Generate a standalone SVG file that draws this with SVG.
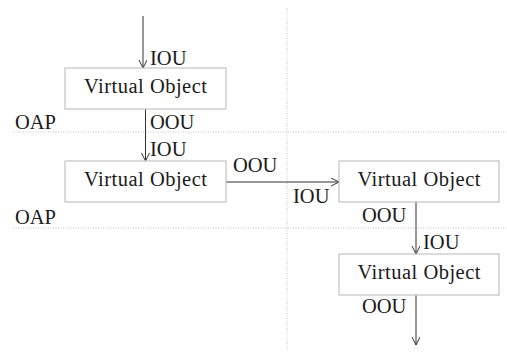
<svg xmlns="http://www.w3.org/2000/svg" width="507" height="352" viewBox="0 0 507 352">
  <style>
    .grid { stroke: #b4b4b4; stroke-width: 0.8; stroke-dasharray: 1 1.5; fill: none; }
    .box { fill: #ffffff; stroke: #c4c4c4; stroke-width: 1.2; }
    .edge { stroke: #333333; stroke-width: 1; fill: none; marker-end: url(#head); }
  </style>
  <defs>
    <marker id="head" markerWidth="10" markerHeight="10" refX="8" refY="4" orient="auto" markerUnits="userSpaceOnUse">
      <path d="M0,0 L8,4 L0,8" fill="none" stroke="#333333" stroke-width="1"/>
    </marker>
  </defs>

  <!-- partition guides -->
  <g id="guides">
    <line class="grid" x1="287" y1="8" x2="287" y2="350"/>
    <line class="grid" x1="13" y1="132" x2="507" y2="132"/>
    <line class="grid" x1="13" y1="228" x2="507" y2="228"/>
  </g>
  <g id="partition-labels" font-family="Liberation Serif" font-size="20.5" fill="#1a1a1a">
    <text x="15" y="129">OAP</text>
    <text x="15" y="224">OAP</text>
  </g>

  <!-- connectors -->
  <g id="connectors">
    <line class="edge" x1="143" y1="16" x2="143" y2="68"/>
    <line class="edge" x1="145.5" y1="109" x2="145.5" y2="161"/>
    <line class="edge" x1="226" y1="182" x2="339" y2="182"/>
    <line class="edge" x1="416" y1="202" x2="416" y2="254"/>
    <line class="edge" x1="416" y1="295" x2="416" y2="345"/>
    <g font-family="Liberation Serif" font-size="20.5" fill="#1a1a1a">
      <text x="150" y="65">IOU</text>
      <text x="150" y="129">OOU</text>
      <text x="150" y="156">IOU</text>
      <text x="233" y="172">OOU</text>
      <text x="293" y="203">IOU</text>
      <text x="362" y="222">OOU</text>
      <text x="423" y="249">IOU</text>
      <text x="362" y="313">OOU</text>
    </g>
  </g>

  <g id="vo1">
    <rect class="box" x="65" y="68" width="161" height="41"/>
    <text x="145.5" y="93" font-family="Liberation Serif" font-size="20.5" fill="#1a1a1a" text-anchor="middle" textLength="123">Virtual Object</text>
  </g>
  <g id="vo2">
    <rect class="box" x="65" y="161" width="161" height="41"/>
    <text x="145.5" y="186" font-family="Liberation Serif" font-size="20.5" fill="#1a1a1a" text-anchor="middle" textLength="123">Virtual Object</text>
  </g>
  <g id="vo3">
    <rect class="box" x="339" y="161" width="160" height="41"/>
    <text x="419" y="186" font-family="Liberation Serif" font-size="20.5" fill="#1a1a1a" text-anchor="middle" textLength="123">Virtual Object</text>
  </g>
  <g id="vo4">
    <rect class="box" x="339" y="254" width="160" height="41"/>
    <text x="419" y="279" font-family="Liberation Serif" font-size="20.5" fill="#1a1a1a" text-anchor="middle" textLength="123">Virtual Object</text>
  </g>
</svg>
